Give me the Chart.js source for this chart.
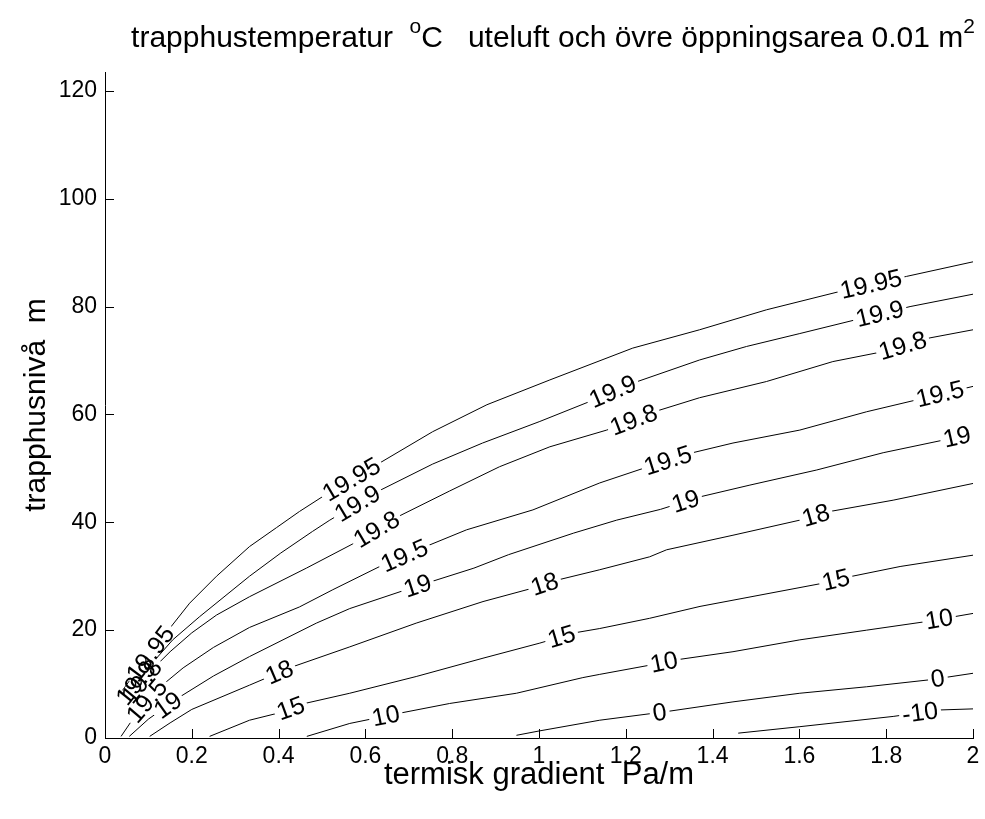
<!DOCTYPE html>
<html>
<head>
<meta charset="utf-8">
<script src="https://cdn.jsdelivr.net/npm/chart.js@4.4.1/dist/chart.umd.min.js"></script>
<style>
  html, body { margin: 0; padding: 0; background: #fff; }
  canvas { display: block; }
</style>
</head>
<body>
<canvas id="contourChart" width="985" height="819"></canvas>
<script>
// contour levels, in the same order as the line arrays below
const levels = [19.95, 19.9, 19.8, 19.5, 19, 18, 15, 10, 0, -10];

const xTicks = [0, 0.2, 0.4, 0.6, 0.8, 1, 1.2, 1.4, 1.6, 1.8, 2];
const yTicks = [0, 20, 40, 60, 80, 100, 120];

// 19.95
const c1995x = [0.04, 0.06, 0.09, 0.14, 0.195, 0.257, 0.333, 0.395, 0.448, 0.506, 0.633, 0.755, 0.88, 1.025, 1.216, 1.37, 1.524, 1.693, 1.847, 2.0];
const c1995y = [8.8, 11.0, 14.0, 19.4, 25.0, 30.0, 35.5, 39.0, 42.0, 45.0, 51.0, 56.8, 61.8, 66.4, 72.3, 75.7, 79.4, 82.8, 85.6, 88.3];
// 19.9
const c199x = [0.045, 0.07, 0.11, 0.156, 0.218, 0.333, 0.405, 0.478, 0.518, 0.633, 0.755, 0.87, 1.002, 1.117, 1.216, 1.37, 1.478, 1.601, 1.732, 1.855, 2.0];
const c199y = [7.5, 10.0, 14.0, 18.2, 22.5, 30.0, 34.3, 38.3, 40.4, 45.9, 50.8, 54.7, 58.7, 62.4, 65.8, 70.1, 72.6, 75.0, 77.6, 80.0, 82.3];
// 19.8
const c198x = [0.045, 0.065, 0.1, 0.15, 0.2, 0.257, 0.333, 0.464, 0.571, 0.679, 0.794, 0.909, 1.025, 1.156, 1.278, 1.37, 1.524, 1.677, 1.79, 1.901, 2.0];
const c198y = [6.3, 8.5, 12.0, 16.0, 19.5, 22.8, 26.2, 31.5, 36.0, 41.2, 45.8, 50.3, 54.0, 57.1, 60.8, 63.1, 66.1, 69.8, 71.6, 74.2, 75.7];
// 19.5
const c195x = [0.037, 0.075, 0.12, 0.18, 0.25, 0.333, 0.448, 0.525, 0.633, 0.748, 0.833, 0.986, 1.14, 1.244, 1.354, 1.447, 1.601, 1.755, 1.87, 2.0];
const c195y = [0.3, 4.8, 9.0, 13.0, 16.8, 20.5, 24.3, 27.5, 31.8, 35.8, 38.6, 42.3, 47.3, 50.1, 52.9, 54.7, 57.1, 60.5, 62.7, 65.2];
// 19
const c19x = [0.056, 0.1, 0.172, 0.25, 0.333, 0.487, 0.564, 0.694, 0.752, 0.85, 0.93, 1.08, 1.179, 1.28, 1.37, 1.486, 1.64, 1.793, 1.935, 2.0];
const c19y = [0.3, 3.5, 7.6, 11.5, 15.1, 21.3, 24.0, 27.5, 29.0, 31.5, 34.0, 38.0, 40.4, 42.4, 44.7, 46.9, 49.7, 52.9, 55.3, 56.5];
// 18
const c18x = [0.103, 0.15, 0.2, 0.333, 0.432, 0.564, 0.717, 0.871, 0.986, 1.043, 1.14, 1.255, 1.294, 1.447, 1.601, 1.67, 1.816, 2.0];
const c18y = [0.3, 2.8, 5.3, 9.8, 13.2, 16.9, 21.3, 25.3, 27.8, 29.3, 31.2, 33.6, 34.9, 37.6, 40.4, 42.0, 44.1, 47.2];
// 15
const c15x = [0.241, 0.333, 0.398, 0.46, 0.564, 0.717, 0.871, 1.002, 1.082, 1.14, 1.255, 1.371, 1.654, 1.716, 1.832, 2.0];
const c15y = [0.3, 3.3, 4.6, 6.4, 8.3, 11.4, 14.8, 17.6, 19.5, 20.3, 22.2, 24.4, 28.7, 29.9, 31.8, 33.9];
// 10
const c10x = [0.465, 0.564, 0.679, 0.794, 0.948, 1.101, 1.14, 1.255, 1.317, 1.447, 1.601, 1.755, 1.893, 2.0];
const c10y = [0.3, 2.7, 4.6, 6.4, 8.3, 11.2, 11.8, 13.5, 14.5, 16.0, 18.2, 20.0, 21.6, 23.1];
// 0
const c0x = [0.948, 1.0, 1.14, 1.294, 1.447, 1.601, 1.755, 1.901, 2.0];
const c0y = [0.5, 1.3, 3.3, 4.9, 6.7, 8.3, 9.5, 10.8, 12.0];
// -10
const cm10x = [1.459, 1.601, 1.816, 1.924, 2.0];
const cm10y = [0.9, 2.1, 4.0, 5.2, 5.4];

const lineX = [c1995x, c199x, c198x, c195x, c19x, c18x, c15x, c10x, c0x, cm10x];
const lineY = [c1995y, c199y, c198y, c195y, c19y, c18y, c15y, c10y, c0y, cm10y];

// where along x each level gets its inline label
const labelAt = [
  [0.105, 0.568, 1.765],
  [0.072, 0.582, 1.17, 1.785],
  [0.085, 0.626, 1.218, 1.838],
  [0.097, 0.69, 1.297, 1.924],
  [0.145, 0.72, 1.338, 1.963],
  [0.402, 1.013, 1.638],
  [0.428, 1.052, 1.684],
  [0.647, 1.288, 1.922],
  [1.278, 1.919],
  [1.878]
];

const FONT = '"Liberation Sans", Arial, Helvetica, sans-serif';
Chart.defaults.font.family = FONT;
Chart.defaults.color = '#000';

const datasets = levels.map((lv, i) => ({
  label: String(lv),
  data: lineX[i].map((x, j) => ({ x: x, y: lineY[i][j] })),
  borderColor: '#000',
  borderWidth: 1,
  pointRadius: 0,
  tension: 0,
  fill: false,
  labelAt: labelAt[i]
}));

// y pixel on a polyline at a given x pixel (clamped to the ends)
function pointAt(pts, px) {
  if (px <= pts[0][0]) return pts[0];
  for (let k = 1; k < pts.length; k++) {
    if (px <= pts[k][0]) {
      const a = pts[k - 1], b = pts[k];
      const t = (px - a[0]) / (b[0] - a[0]);
      return [px, a[1] + t * (b[1] - a[1])];
    }
  }
  return pts[pts.length - 1];
}

const contourLabels = {
  id: 'contourLabels',
  afterDatasetsDraw(chart) {
    const { ctx, scales: { x: xs, y: ys } } = chart;
    const items = [];
    chart.data.datasets.forEach(ds => {
      const pts = ds.data.map(p => [xs.getPixelForValue(p.x), ys.getPixelForValue(p.y)]);
      (ds.labelAt || []).forEach(lx => {
        const px = xs.getPixelForValue(lx);
        const c = pointAt(pts, px);
        const a = pointAt(pts, px - 10);
        const b = pointAt(pts, px + 10);
        let ang = Math.atan2(b[1] - a[1], b[0] - a[0]);
        if (ang < -Math.PI / 2) ang += Math.PI;
        if (ang > Math.PI / 2) ang -= Math.PI;
        items.push({ text: ds.label, x: c[0], y: c[1], ang: ang });
      });
    });
    ctx.save();
    ctx.font = '25px ' + FONT;
    ctx.textAlign = 'center';
    ctx.textBaseline = 'middle';
    // cut a gap in the line under each label first, then write the text
    items.forEach(it => {
      const w = ctx.measureText(it.text).width;
      ctx.save();
      ctx.translate(it.x, it.y);
      ctx.rotate(it.ang);
      ctx.fillStyle = '#fff';
      ctx.fillRect(-w / 2 - 3, -6, w + 6, 12);
      ctx.restore();
    });
    items.forEach(it => {
      ctx.save();
      ctx.translate(it.x, it.y);
      ctx.rotate(it.ang);
      ctx.fillStyle = '#000';
      ctx.fillText(it.text, 0, 1);
      ctx.restore();
    });
    ctx.restore();
  }
};

// tick marks pointing into the plot
const inwardTicks = {
  id: 'inwardTicks',
  afterDraw(chart) {
    const { ctx, chartArea: area, scales: { x, y } } = chart;
    ctx.save();
    ctx.strokeStyle = '#000';
    ctx.lineWidth = 1;
    ctx.beginPath();
    x.ticks.forEach(t => {
      const p = Math.round(x.getPixelForValue(t.value)) + 0.5;
      ctx.moveTo(p, area.bottom);
      ctx.lineTo(p, area.bottom - 9);
    });
    y.ticks.forEach(t => {
      const p = Math.round(y.getPixelForValue(t.value)) + 0.5;
      ctx.moveTo(area.left, p);
      ctx.lineTo(area.left + 9, p);
    });
    ctx.stroke();
    ctx.restore();
  }
};

// title with raised "o" and "2"
const titleParts = [
  { text: 'trapphustemperatur  ', sup: false },
  { text: 'o', sup: true },
  { text: 'C   uteluft och övre öppningsarea 0.01 m', sup: false },
  { text: '2', sup: true }
];

const supTitle = {
  id: 'supTitle',
  afterDraw(chart) {
    const { ctx, chartArea: area } = chart;
    const base = '30px ' + FONT, small = '21px ' + FONT;
    ctx.save();
    ctx.fillStyle = '#000';
    ctx.textBaseline = 'alphabetic';
    ctx.textAlign = 'left';
    let total = 0;
    titleParts.forEach(p => {
      ctx.font = p.sup ? small : base;
      p.w = ctx.measureText(p.text).width;
      total += p.w;
    });
    let x = (area.left + area.right) / 2 + 14 - total / 2;
    const baseline = 47;
    titleParts.forEach(p => {
      ctx.font = p.sup ? small : base;
      ctx.fillText(p.text, x, p.sup ? baseline - 14 : baseline);
      x += p.w;
    });
    ctx.restore();
  }
};

new Chart(document.getElementById('contourChart'), {
  type: 'line',
  data: { datasets: datasets },
  options: {
    responsive: false,
    animation: false,
    layout: { padding: { top: 72, right: 12, left: 0, bottom: 0 } },
    plugins: {
      legend: { display: false },
      tooltip: { enabled: false },
      title: { display: false }
    },
    scales: {
      x: {
        type: 'linear',
        min: 0,
        max: 2,
        afterBuildTicks: s => { s.ticks = xTicks.map(v => ({ value: v })); },
        afterFit: s => { s.height = 81; },
        ticks: { font: { size: 23 }, padding: 5, maxRotation: 0, callback: v => String(v) },
        grid: { display: true, drawOnChartArea: false, drawTicks: false },
        border: { display: true, color: '#000', width: 1 },
        title: {
          display: true,
          text: 'termisk gradient  Pa/m',
          font: { size: 31 },
          padding: { top: 0, bottom: 25 }
        }
      },
      y: {
        type: 'linear',
        min: 0,
        max: 123.5,
        afterBuildTicks: s => { s.ticks = yTicks.map(v => ({ value: v })); },
        afterFit: s => { s.width = 105; },
        ticks: { font: { size: 23 }, padding: 8, callback: v => String(v) },
        grid: { display: true, drawOnChartArea: false, drawTicks: false },
        border: { display: true, color: '#000', width: 1 },
        title: {
          display: true,
          text: 'trapphusnivå  m',
          font: { size: 30 },
          padding: { top: 19, bottom: 0 }
        }
      }
    }
  },
  plugins: [contourLabels, inwardTicks, supTitle]
});
</script>
</body>
</html>
